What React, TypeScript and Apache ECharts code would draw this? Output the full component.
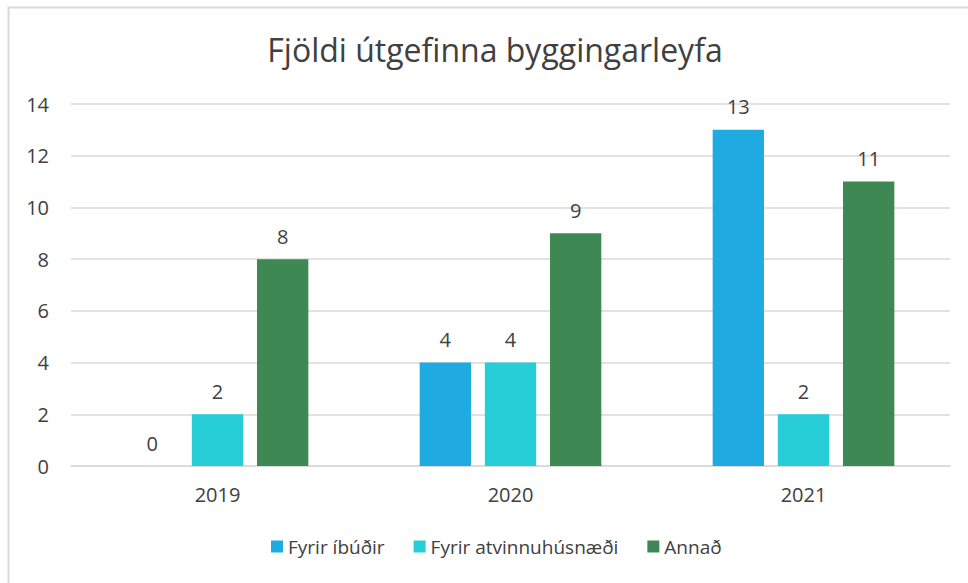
import React, { useEffect, useRef } from "react";
import * as echarts from "echarts";

const categories = ["2019", "2020", "2021"];
const seriesNames = ["Fyrir íbúðir", "Fyrir atvinnuhúsnæði", "Annað"];
const ibudir = [0, 4, 13];
const atvinnu = [2, 4, 2];
const annad = [8, 9, 11];
const colors = ["#1FABE2", "#27CED7", "#3E8853"];

export default function App() {
  const ref = useRef<HTMLDivElement>(null);
  useEffect(() => {
    if (!ref.current) return;
    const chart = echarts.init(ref.current, null, { renderer: "svg" });
    const font = "'Open Sans', 'Noto Sans', sans-serif";
    const values = [ibudir, atvinnu, annad];
    chart.setOption({
      animation: false,
      textStyle: { fontFamily: font },
      title: {
        text: "Fjöldi útgefinna byggingarleyfa",
        left: 490,
        textAlign: "center",
        top: 28,
        textStyle: { fontFamily: font, fontSize: 32, fontWeight: "normal", color: "#404040" },
      },
      graphic: [
        {
          type: "rect",
          left: 6,
          top: 5,
          shape: { x: 0, y: 0, width: 980, height: 600 },
          style: { fill: "none", stroke: "#d9d9d9", lineWidth: 2 },
          silent: true,
        },
      ],
      legend: {
        bottom: 22,
        left: 266,
        itemWidth: 12,
        itemHeight: 12,
        itemGap: 29,
        icon: "rect",
        textStyle: { fontFamily: font, fontSize: 19, color: "#404040" },
        data: seriesNames,
      },
      grid: { left: 71, right: 18, top: 104, bottom: 117, containLabel: false },
      xAxis: {
        type: "category",
        data: categories,
        axisTick: { show: false },
        axisLine: { lineStyle: { color: "#d9d9d9", width: 1.5 } },
        axisLabel: { fontFamily: font, fontSize: 20, color: "#404040", margin: 18 },
      },
      yAxis: {
        type: "value",
        min: 0,
        max: 14,
        interval: 2,
        axisLine: { show: false },
        axisTick: { show: false },
        splitLine: { lineStyle: { color: "#d9d9d9", width: 1.5 } },
        axisLabel: { fontFamily: font, fontSize: 20, color: "#404040", margin: 22 },
      },
      series: seriesNames.map((name, i) => ({
        name,
        type: "bar",
        data: values[i],
        itemStyle: { color: colors[i] },
        barGap: "27%",
        barCategoryGap: "38%",
        label: {
          show: true,
          position: "top",
          distance: 13,
          fontFamily: font,
          fontSize: 20,
          color: "#404040",
        },
      })),
    });
    return () => chart.dispose();
  }, []);
  return (
    <div
      ref={ref}
      style={{ position: "fixed", left: 0, top: 0, width: 968, height: 583, background: "#fff" }}
    />
  );
}
